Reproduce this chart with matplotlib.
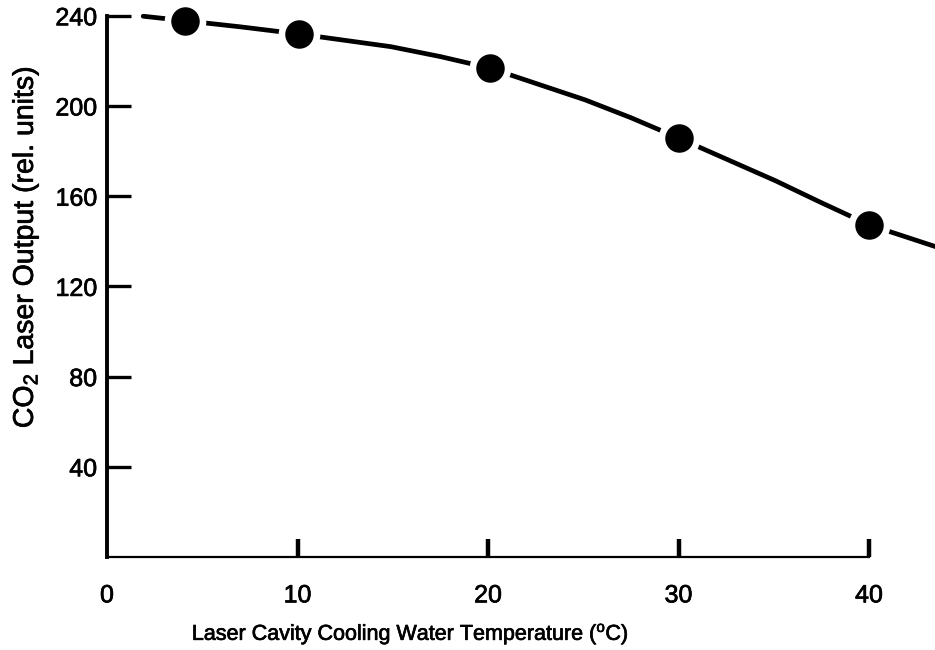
import matplotlib
matplotlib.use("Agg")
import matplotlib.pyplot as plt
import matplotlib.patheffects as pe

plt.rcParams['font.family'] = ['Liberation Sans', 'DejaVu Sans']
plt.rcParams['mathtext.fontset'] = 'custom'
plt.rcParams['mathtext.rm'] = 'Liberation Sans'
plt.rcParams['mathtext.it'] = 'Liberation Sans'

# measured points
temp = [4.1, 10.1, 20.1, 30.0, 40.0]
output = [237.8, 231.9, 216.8, 185.8, 147.3]

# hand drawn curve
curve_t = [1.9, 4.1, 7.0, 10.1, 14.9, 17.5, 20.1, 25.1, 27.5, 30.0, 35.1, 37.4, 40.0, 43.5]
curve_y = [239.8, 237.8, 235.1, 231.9, 226.3, 221.9, 216.8, 202.7, 194.8, 185.8, 166.8, 157.5, 147.3, 137.6]

xticks = [0, 10, 20, 30, 40]
yticks = [40, 80, 120, 160, 200, 240]

# slightly heavier strokes, like the scanned print
thick = [pe.withStroke(linewidth=0.5, foreground='black')]

W, H = 935, 650
fig = plt.figure(figsize=(W / 100, H / 100), dpi=100)
ax = fig.add_axes([107 / W, (H - 557) / H, 828 / W, 557 / H])

ax.plot(curve_t, curve_y, color='black', lw=3.4, solid_capstyle='round', zorder=2)
ax.plot(temp, output, 'o', ms=29, color='white', zorder=3, clip_on=False)
ax.plot(temp, output, 'o', ms=19.5, color='black', zorder=4, clip_on=False)

ax.set_xlim(0, 43.46)
ax.set_ylim(0, 247)

for s in ['top', 'right']:
    ax.spines[s].set_visible(False)
ax.spines['left'].set_linewidth(2.8)
ax.spines['left'].set_bounds(0, 240)
ax.spines['bottom'].set_linewidth(1.6)
ax.spines['bottom'].set_bounds(0, 40)

ax.set_yticks(yticks)
ax.set_yticklabels([str(v) for v in yticks])
ax.tick_params(axis='y', direction='in', length=17, width=2.4, pad=7, labelsize=18)

ax.set_xticks(xticks)
ax.set_xticklabels([str(v) for v in xticks])
ax.tick_params(axis='x', direction='in', length=13, width=3.2, pad=19, labelsize=18)
ax.xaxis.get_major_ticks()[0].tick1line.set_visible(False)

for lab in ax.get_xticklabels() + ax.get_yticklabels():
    lab.set_path_effects(thick)

fig.text(410 / W, 1 - 634 / H, 'Laser Cavity Cooling Water Temperature ($^{\\mathrm{o}}$C)',
         ha='center', va='center', fontsize=15.5, path_effects=thick)
fig.text(26 / W, 1 - 247 / H, 'CO$_2$ Laser Output (rel. units)',
         ha='center', va='center', rotation=90, fontsize=20.5, path_effects=thick)

fig.savefig('out.png', dpi=100)
